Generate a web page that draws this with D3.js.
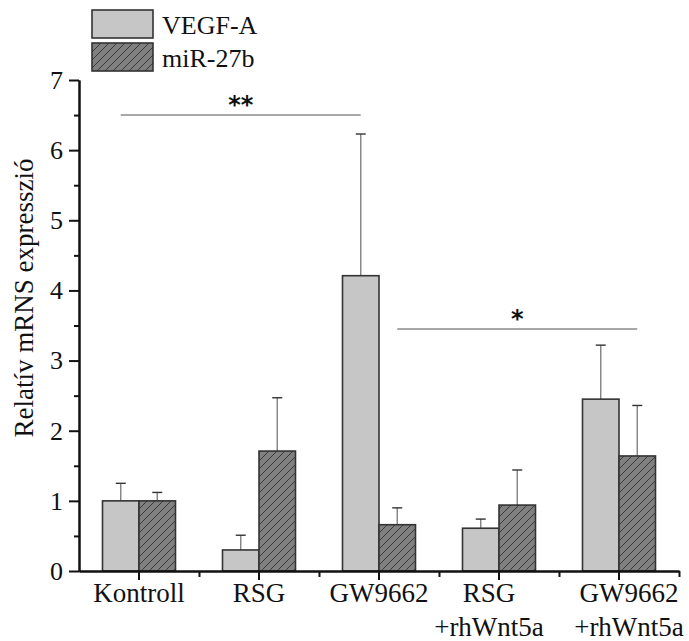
<!DOCTYPE html>
<html>
<head>
<meta charset="utf-8">
<script src="https://cdn.jsdelivr.net/npm/d3@7"></script>
<style>
  html, body { margin: 0; padding: 0; background: #fff; }
  svg { display: block; }
</style>
</head>
<body>
<svg id="chart" width="689" height="641" font-family="Liberation Serif, Times New Roman, serif"></svg>
<script>
// Groups along the x axis (second line drawn under the first)
const groups = ["Kontroll", "RSG", "GW9662", "RSG +rhWnt5a", "GW9662 +rhWnt5a"];
const groupLines = [["Kontroll"], ["RSG"], ["GW9662"], ["RSG", "+rhWnt5a"], ["GW9662", "+rhWnt5a"]];
const seriesNames = ["VEGF-A", "miR-27b"];

// Mean relative expression and upper error (mean + SD)
const vegfMean = [1.00, 0.30, 4.21, 0.61, 2.45];
const vegfErr  = [0.25, 0.21, 2.02, 0.13, 0.77];
const mirMean  = [1.00, 1.71, 0.66, 0.94, 1.64];
const mirErr   = [0.12, 0.76, 0.24, 0.50, 0.72];

const yTicks = [0, 1, 2, 3, 4, 5, 6, 7];
const yTitle = "Relatív mRNS expresszió";

// Significance brackets: from (group, series) to (group, series), height, label
const sigFromGroup  = [0, 2];
const sigFromSeries = ["VEGF-A", "miR-27b"];
const sigToGroup    = [2, 4];
const sigToSeries   = ["VEGF-A", "miR-27b"];
const sigLevel = [6.5, 3.45];
const sigLabel = ["**", "*"];

const SERIF = "Liberation Serif, Times New Roman, serif";
const svg = d3.select("#chart");
const M = { left: 79, right: 679, top: 80, bottom: 571 };

const x = d3.scaleBand().domain(groups).range([M.left, M.right]).padding(0);
const xEdge = d3.scaleLinear().domain([0, groups.length]).range([M.left, M.right]);
const y = d3.scaleLinear().domain([0, 7]).range([M.bottom, M.top]);
const barW = 36.5;
const xs = d3.scaleBand().domain(seriesNames).range([-barW, barW]).padding(0);

// hatch pattern for miR-27b
const defs = svg.append("defs");
const pat = defs.append("pattern")
  .attr("id", "hatch").attr("patternUnits", "userSpaceOnUse")
  .attr("width", 8).attr("height", 8);
pat.append("rect").attr("width", 8).attr("height", 8).attr("fill", "#808080");
pat.append("path").attr("d", "M-2,2 L2,-2 M0,8 L8,0 M6,10 L10,6")
  .attr("stroke", "#3a3a3a").attr("stroke-width", 1);

const fills = { "VEGF-A": "#c6c6c6", "miR-27b": "url(#hatch)" };

const series = [
  { name: "VEGF-A", mean: vegfMean, err: vegfErr },
  { name: "miR-27b", mean: mirMean, err: mirErr }
];

const bars = [];
series.forEach(s => groups.forEach((g, i) => bars.push({ g, s: s.name, v: s.mean[i], e: s.err[i] })));
const bx = d => x(d.g) + x.bandwidth() / 2 + xs(d.s);
const bmid = (g, s) => x(g) + x.bandwidth() / 2 + xs(s) + xs.bandwidth() / 2;

// error bars (upper only)
const eb = svg.append("g");
eb.selectAll("line.v").data(bars).join("line")
  .attr("x1", d => bmid(d.g, d.s)).attr("x2", d => bmid(d.g, d.s))
  .attr("y1", d => y(d.v)).attr("y2", d => y(d.v + d.e))
  .attr("stroke", "#808080").attr("stroke-width", 1.4);
eb.selectAll("line.c").data(bars).join("line")
  .attr("x1", d => bmid(d.g, d.s) - 5).attr("x2", d => bmid(d.g, d.s) + 5)
  .attr("y1", d => y(d.v + d.e)).attr("y2", d => y(d.v + d.e))
  .attr("stroke", "#333").attr("stroke-width", 1.4);

// bars
svg.append("g").selectAll("rect").data(bars).join("rect")
  .attr("x", d => bx(d)).attr("width", xs.bandwidth())
  .attr("y", d => y(d.v)).attr("height", d => y(0) - y(d.v))
  .attr("fill", d => fills[d.s]).attr("stroke", "#333").attr("stroke-width", 1.6);

// axes
const yAxis = svg.append("g").attr("transform", `translate(${M.left},0)`)
  .call(d3.axisLeft(y).tickValues(yTicks).tickSize(10).tickSizeOuter(0).tickPadding(6).tickFormat(d3.format("d")));
const yMinor = svg.append("g").attr("transform", `translate(${M.left},0)`)
  .call(d3.axisLeft(y).tickValues(yTicks.slice(0, -1).map(t => t + 0.5)).tickSize(5).tickSizeOuter(0).tickFormat(""));
const xAxis = svg.append("g").attr("transform", `translate(0,${M.bottom})`)
  .call(d3.axisBottom(x).tickSize(9).tickSizeOuter(0).tickFormat(""));
const xMinor = svg.append("g").attr("transform", `translate(0,${M.bottom})`)
  .call(d3.axisBottom(xEdge).tickValues(d3.range(1, groups.length + 1)).tickSize(6).tickSizeOuter(0).tickFormat(""));

[yAxis, yMinor, xAxis, xMinor].forEach(a => {
  a.attr("font-family", SERIF).attr("font-size", 26);
  a.selectAll(".domain").attr("stroke", "#111").attr("stroke-width", 2);
  a.selectAll(".tick line").attr("stroke", "#111").attr("stroke-width", 2);
});
yAxis.selectAll(".tick text").attr("font-family", SERIF).attr("font-size", 26).attr("fill", "#111");

// x labels, one or two lines; the two-line labels sit a little off their tick
const labelShift = i => (groupLines[i].length > 1 ? (i % 2 ? -10 : 10) : 0);
xAxis.selectAll(".tick").each(function (d, i) {
  const t = d3.select(this).append("text")
    .attr("text-anchor", "middle").attr("font-size", 27).attr("fill", "#111")
    .attr("font-family", SERIF);
  groupLines[i].forEach((ln, k) => t.append("tspan")
    .attr("x", labelShift(i)).attr("y", 31 + k * 34).text(ln));
});

// y title
svg.append("text")
  .attr("transform", "translate(33,298) rotate(-90)")
  .attr("text-anchor", "middle").attr("font-size", 27).attr("font-family", SERIF)
  .attr("fill", "#111").text(yTitle);

// significance lines
const sig = svg.append("g");
sigLabel.forEach((lab, i) => {
  const x1 = bmid(groups[sigFromGroup[i]], sigFromSeries[i]);
  const x2 = bmid(groups[sigToGroup[i]], sigToSeries[i]);
  sig.append("line").attr("x1", x1).attr("x2", x2)
    .attr("y1", y(sigLevel[i])).attr("y2", y(sigLevel[i]))
    .attr("stroke", "#8a8a8a").attr("stroke-width", 1.5);
  sig.append("text").attr("x", (x1 + x2) / 2).attr("y", y(sigLevel[i]) - 2)
    .attr("text-anchor", "middle").attr("font-size", 24).attr("font-weight", "bold")
    .attr("font-family", "DejaVu Sans, sans-serif").attr("fill", "#111").text(lab);
});

// legend
const leg = svg.append("g");
seriesNames.forEach((n, i) => {
  leg.append("rect").attr("x", 92).attr("y", 10 + i * 33).attr("width", 61).attr("height", 28)
    .attr("fill", fills[n]).attr("stroke", "#333").attr("stroke-width", 1.6);
  leg.append("text").attr("x", 162).attr("y", 34 + i * 33).attr("font-size", 26)
    .attr("font-family", SERIF).attr("fill", "#111").text(n);
});
</script>
</body>
</html>
